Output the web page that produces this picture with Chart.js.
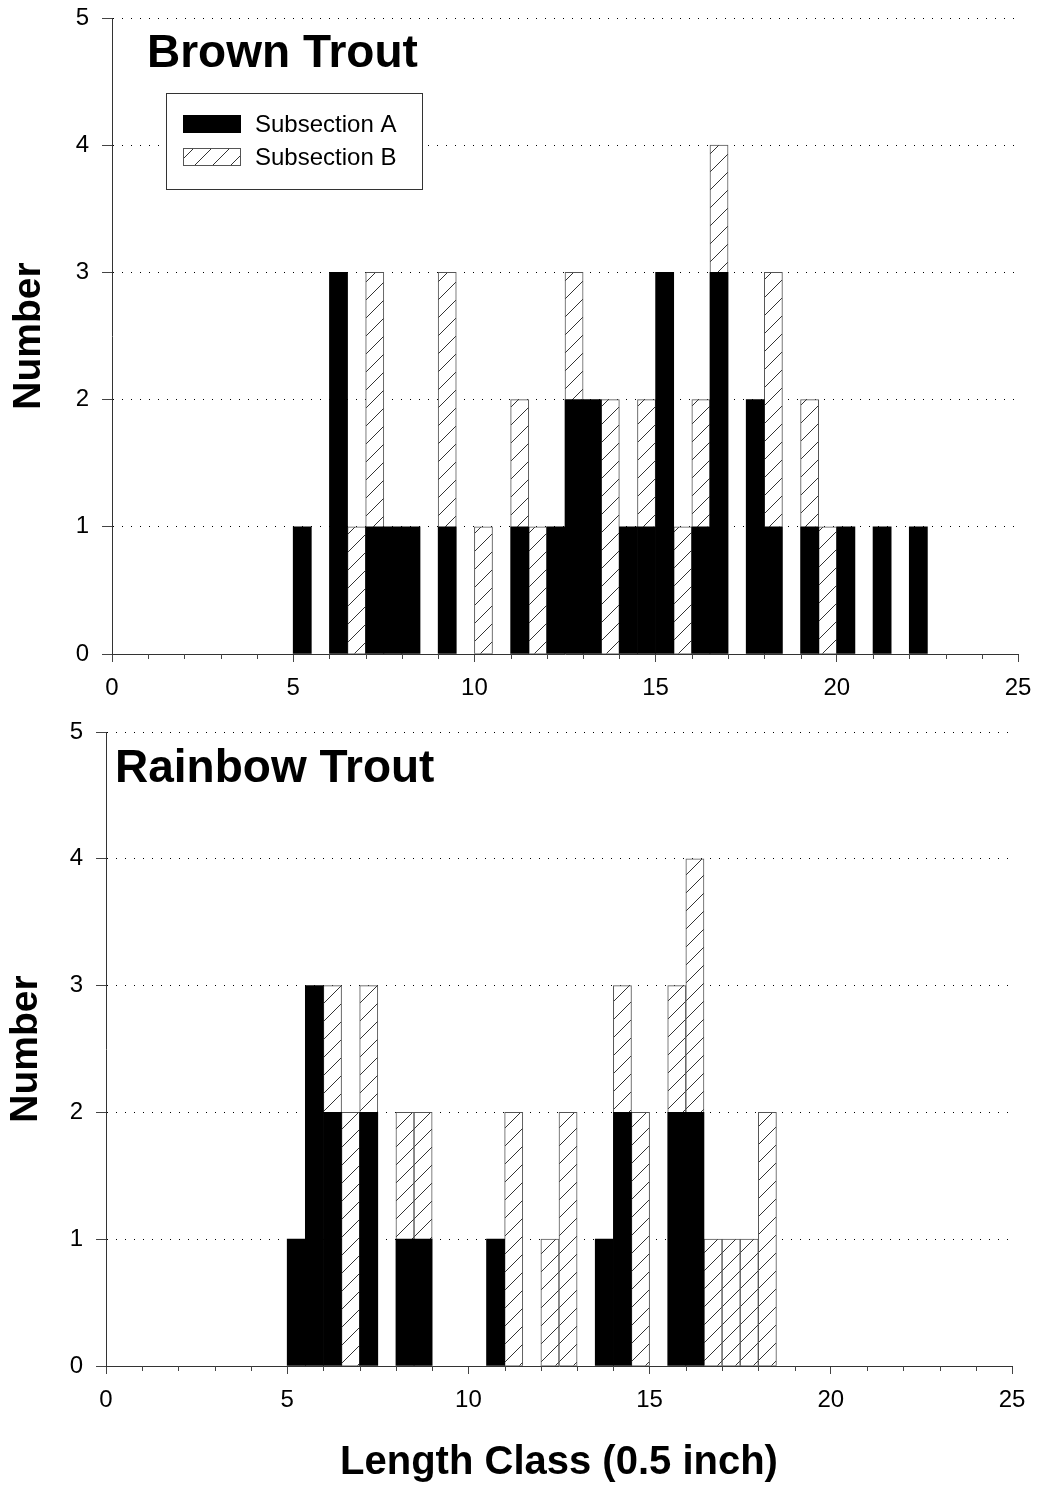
<!DOCTYPE html>
<html>
<head>
<meta charset="utf-8">
<title>Trout length classes</title>
<script src="https://cdn.jsdelivr.net/npm/chart.js@4.4.1/dist/chart.umd.min.js"></script>
<style>
  body { margin: 0; background: #fff; }
  canvas { position: absolute; left: 0; }
  #brownChart { top: 0; }
  #rainbowChart { top: 715px; }
</style>
</head>
<body>
<canvas id="brownChart" width="1037" height="712"></canvas>
<canvas id="rainbowChart" width="1037" height="773"></canvas>
<script>
// left edge of each 0.5 length class, with the counts for each subsection
const brownClasses = [5, 6, 6.5, 7, 7.5, 8, 9, 10, 11, 11.5, 12, 12.5, 13, 13.5, 14, 14.5, 15, 15.5, 16, 16.5, 17.5, 18, 19, 19.5, 20, 21, 22];
const brownA = [1, 3, 0, 1, 1, 1, 1, 0, 1, 0, 1, 2, 2, 0, 1, 1, 3, 0, 1, 3, 2, 1, 1, 0, 1, 1, 1];
const brownB = [0, 0, 1, 2, 0, 0, 2, 1, 1, 1, 0, 1, 0, 2, 0, 1, 0, 1, 1, 1, 0, 2, 1, 1, 0, 0, 0];

const rainbowClasses = [5, 5.5, 6, 6.5, 7, 8, 8.5, 10.5, 11, 12, 12.5, 13.5, 14, 14.5, 15.5, 16, 16.5, 17, 17.5, 18];
const rainbowA = [1, 3, 2, 0, 2, 1, 1, 1, 0, 0, 0, 1, 2, 0, 2, 2, 0, 0, 0, 0];
const rainbowB = [0, 0, 1, 2, 1, 1, 1, 0, 2, 1, 2, 0, 1, 2, 1, 2, 1, 1, 1, 2];

const seriesNames = ['Subsection A', 'Subsection B'];
const yTicks = [0, 1, 2, 3, 4, 5];
const xTicks = [0, 5, 10, 15, 20, 25];
const classWidth = 0.5;

const FONT = "'Liberation Sans', Arial, sans-serif";

function makeHatch() {
    const c = document.createElement('canvas');
    c.width = 18; c.height = 18;
    const g = c.getContext('2d');
    g.fillStyle = '#fff';
    g.fillRect(0, 0, 18, 18);
    g.strokeStyle = '#333';
    g.lineWidth = 1;
    g.beginPath();
    g.moveTo(0, 18); g.lineTo(18, 0);
    g.moveTo(-2, 2); g.lineTo(2, -2);
    g.moveTo(16, 20); g.lineTo(20, 16);
    g.stroke();
    return g.createPattern(c, 'repeat');
}
const hatch = makeHatch();

function toPoints(classes, counts) {
    return classes.map((c, i) => ({ x: c + classWidth / 2, y: counts[i] }));
}

// short ticks at every whole number on the x axis
const minorTicks = {
    id: 'minorTicks',
    afterDraw(chart) {
        const x = chart.scales.x, ctx = chart.ctx;
        ctx.save();
        ctx.strokeStyle = '#444';
        ctx.lineWidth = 1;
        ctx.beginPath();
        for (let v = x.min; v <= x.max; v++) {
            if (v % 5 === 0) continue;
            const px = Math.round(x.getPixelForValue(v)) + 0.5;
            ctx.moveTo(px, x.top);
            ctx.lineTo(px, x.top + 5);
        }
        ctx.stroke();
        ctx.restore();
    }
};

// species name inside the plot, plus the boxed legend on the top panel
const panelLabel = {
    id: 'panelLabel',
    afterDatasetsDraw(chart, args, opts) {
        const ctx = chart.ctx, area = chart.chartArea;
        ctx.save();
        ctx.fillStyle = '#000';
        ctx.font = 'bold 46px ' + FONT;
        ctx.textBaseline = 'alphabetic';
        ctx.fillText(opts.text, area.left + opts.dx, area.top + opts.dy);

        if (opts.legend) {
            const lx = area.left + 54, ly = 93;
            ctx.fillStyle = '#fff';
            ctx.fillRect(lx, ly, 256, 96);
            ctx.strokeStyle = '#333';
            ctx.lineWidth = 1;
            ctx.strokeRect(lx + 0.5, ly + 0.5, 256, 96);

            ctx.fillStyle = '#000';
            ctx.fillRect(lx + 17, ly + 22, 58, 18);
            ctx.fillStyle = hatch;
            ctx.fillRect(lx + 17, ly + 55, 58, 18);
            ctx.strokeStyle = '#555';
            ctx.strokeRect(lx + 17.5, ly + 55.5, 57, 17);

            ctx.fillStyle = '#000';
            ctx.font = '24px ' + FONT;
            ctx.textBaseline = 'middle';
            ctx.fillText(seriesNames[0], lx + 89, ly + 32);
            ctx.fillText(seriesNames[1], lx + 89, ly + 65);
        }
        ctx.restore();
    }
};

function makeChart(id, classes, countsA, countsB, opts) {
    const el = document.getElementById(id);
    if (!el) return;
    const ctx = el.getContext('2d');
    return new Chart(ctx, {
        type: 'bar',
        data: {
            datasets: [{
                label: seriesNames[0],
                data: toPoints(classes, countsA),
                backgroundColor: '#000',
                borderWidth: 0
            }, {
                label: seriesNames[1],
                data: toPoints(classes, countsB),
                backgroundColor: hatch,
                borderColor: '#555',
                borderWidth: 1
            }]
        },
        options: {
            responsive: false,
            animation: false,
            barPercentage: 1,
            categoryPercentage: 1,
            layout: { padding: { left: 0, right: opts.padRight, top: opts.padTop, bottom: 0 } },
            plugins: {
                legend: { display: false },
                tooltip: { enabled: false },
                panelLabel: { text: opts.title, dx: opts.dx, dy: opts.dy, legend: opts.legend }
            },
            scales: {
                x: {
                    type: 'linear',
                    stacked: true,
                    offset: false,
                    min: xTicks[0],
                    max: xTicks[xTicks.length - 1],
                    afterBuildTicks: (scale) => { scale.ticks = xTicks.map(v => ({ value: v })); },
                    afterFit: (scale) => {
                        scale.height = opts.xHeight;
                        scale.paddingLeft = 0;
                        scale.paddingRight = 0;
                    },
                    grid: { offset: false, drawOnChartArea: false, drawTicks: true, tickLength: 8, tickColor: '#444', tickBorderDash: [] },
                    border: { display: true, color: '#333', width: 1 },
                    ticks: { color: '#000', padding: 12, maxRotation: 0, font: { family: FONT, size: 24 } },
                    title: {
                        display: !!opts.xTitle,
                        text: opts.xTitle || '',
                        color: '#000',
                        padding: { top: 0, bottom: 1 },
                        font: { family: FONT, size: 40, weight: 'bold' }
                    }
                },
                y: {
                    stacked: true,
                    min: yTicks[0],
                    max: yTicks[yTicks.length - 1],
                    afterBuildTicks: (scale) => { scale.ticks = yTicks.map(v => ({ value: v })); },
                    afterFit: (scale) => {
                        scale.width = opts.yWidth;
                        scale.paddingTop = 0;
                        scale.paddingBottom = 0;
                    },
                    grid: {
                        color: (c) => c.tick && c.tick.value === 0 ? 'rgba(0,0,0,0)' : '#000',
                        lineWidth: 1,
                        tickLength: 10,
                        tickColor: '#444',
                        tickBorderDash: []
                    },
                    border: { display: true, color: '#333', width: 1, dash: [1, 8] },
                    ticks: { color: '#000', padding: 13, font: { family: FONT, size: 24 } },
                    title: {
                        display: true,
                        text: 'Number',
                        color: '#000',
                        padding: { top: opts.yTitlePad, bottom: 0 },
                        font: { family: FONT, size: 39, weight: 'bold' }
                    }
                }
            }
        },
        plugins: [minorTicks, panelLabel]
    });
}

makeChart('brownChart', brownClasses, brownA, brownB, {
    title: 'Brown Trout', dx: 35, dy: 49, legend: true,
    padRight: 19, padTop: 18, xHeight: 58, yWidth: 112, yTitlePad: 6
});

makeChart('rainbowChart', rainbowClasses, rainbowA, rainbowB, {
    title: 'Rainbow Trout', dx: 9, dy: 50, legend: false,
    padRight: 25, padTop: 17, xHeight: 122, yWidth: 106, yTitlePad: 3,
    xTitle: 'Length Class (0.5 inch)'
});
</script>
</body>
</html>
